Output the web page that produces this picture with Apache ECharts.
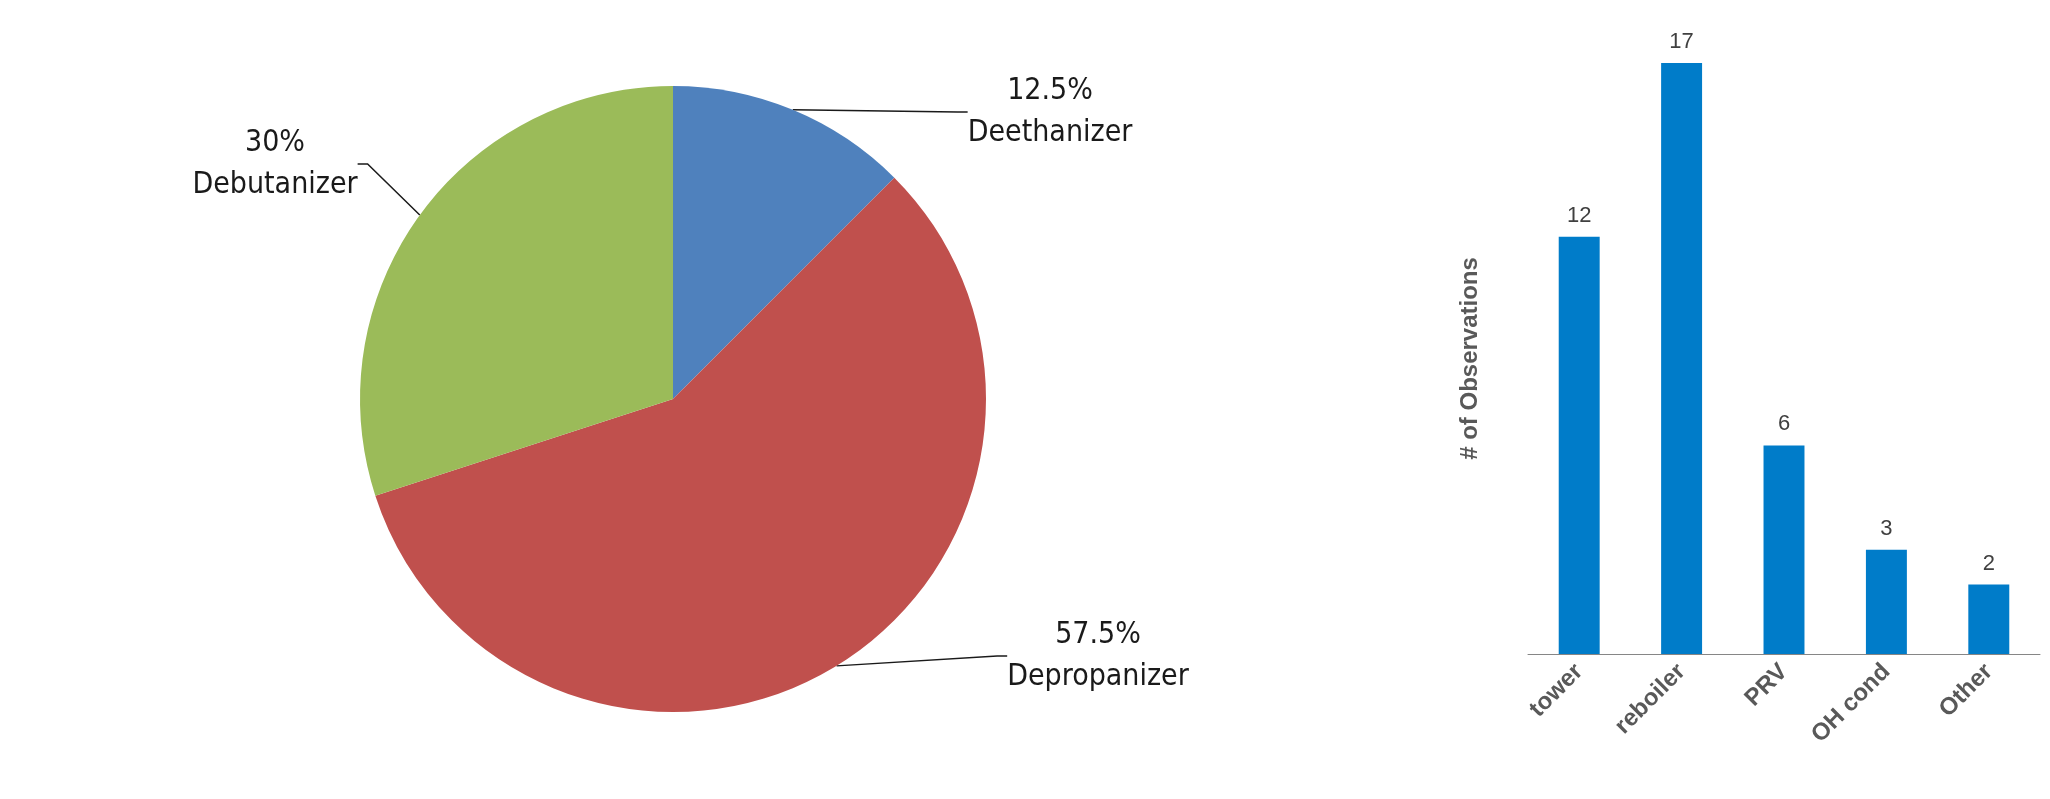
<!DOCTYPE html>
<html><head><meta charset="utf-8">
<script src="https://cdn.jsdelivr.net/npm/echarts@6/dist/echarts.min.js"></script>
<style>html,body{margin:0;padding:0;background:#fff}#c{width:2050px;height:799px}</style>
</head><body><div id="c"></div>
<script>
const pieNames = ['Deethanizer','Depropanizer','Debutanizer'];
const pieValues = [12.5, 57.5, 30];
const pieColors = ['#4F81BD','#C0504D','#9BBB59'];
const barCats = ['tower','reboiler','PRV','OH cond','Other'];
const barValues = [12, 17, 6, 3, 2];

const labelPos = [
  {x: 1050, y: 112, align: 'center'},
  {x: 1098, y: 656, align: 'center'},
  {x: 275, y: 164, align: 'center'}
];
const chart = echarts.init(document.getElementById('c'));
const pieFont = '"Liberation Sans Narrow","DejaVu Sans Condensed","Noto Sans",sans-serif';
chart.setOption({
  animation: false,
  grid: {left: 1528, right: 10, top: 63, bottom: 145},
  xAxis: {type: 'category', data: barCats,
    axisLine: {lineStyle: {color: '#868686'}},
    axisTick: {lineStyle: {color: '#868686'}, length: 8},
    axisLabel: {rotate: 45, fontWeight: 'bold', fontSize: 24, color: '#595959', fontFamily: 'Liberation Sans, Arial', interval: 0, margin: 14}},
  yAxis: {type: 'value', min: 0, max: 17, show: true,
    axisLine: {show: false}, axisTick: {show: false}, axisLabel: {show: false}, splitLine: {show: false},
    name: '# of Observations', nameLocation: 'middle', nameGap: 46,
    nameTextStyle: {fontWeight: 'bold', fontSize: 24, color: '#595959', fontFamily: 'Liberation Sans, Arial'}},
  series: [
    {type: 'bar', data: barValues, barWidth: '40%', itemStyle: {color: '#007CC9'},
     label: {show: true, position: 'top', fontSize: 22, color: '#404040', fontFamily: 'Liberation Sans, Arial', distance: 10}},
    {type: 'pie', center: [673, 399], radius: 313, startAngle: 90, clockwise: true,
     data: pieNames.map((n, i) => ({name: n, value: pieValues[i], itemStyle: {color: pieColors[i]}})),
     itemStyle: {borderColor: '#fff', borderWidth: 0},
     label: {show: true, formatter: p => p.value + '%\n' + p.name, fontSize: 30, lineHeight: 42,
       color: '#1a1a1a', fontFamily: pieFont},
     labelLine: {show: true, length: 10, length2: 10, lineStyle: {color: '#1a1a1a', width: 1.5}},
     labelLayout: p => labelPos[p.dataIndex]
    }
  ]
});
</script></body></html>
